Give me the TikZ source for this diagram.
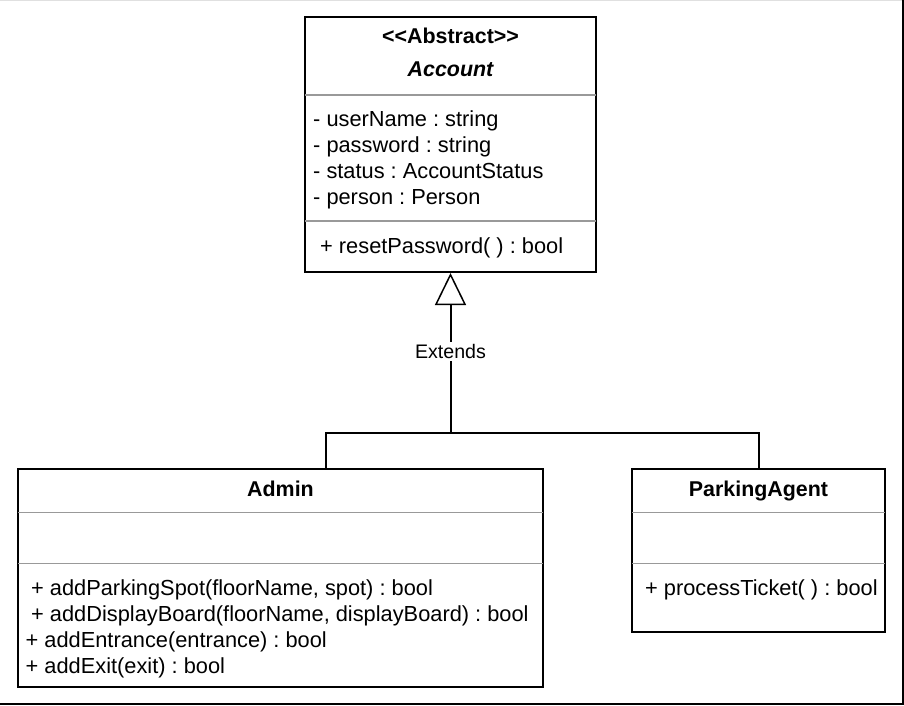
\documentclass[tikz,border=0pt]{standalone}
\usepackage{fontspec}
\newfontfamily\umlfont{Liberation Sans}
\usetikzlibrary{arrows.meta,positioning}
\frenchspacing

\tikzset{
  classbox/.style={draw=black, line width=2pt, rectangle, inner sep=0pt},
  divider/.style={draw=black!40, line width=1.5pt},
  member/.style={anchor=base west, inner sep=0pt, font=\umlfont\fontsize{21.8}{26}\selectfont},
  title/.style={anchor=base, inner sep=0pt, font=\umlfont\bfseries\fontsize{21.4}{26}\selectfont},
  link/.style={line width=2pt},
}

\begin{document}
\begin{tikzpicture}[x=1pt, y=-1pt]
   \useasboundingbox (0,0) rectangle (904,705);
   % page edges
   \draw[black!12, line width=1pt] (0,0.5) -- (902,0.5);
   \draw[line width=2pt] (0,703.5) -- (902.5,703.5) -- (902.5,0);

   % abstract class
   \node[classbox, minimum width=291, minimum height=255] (account) at (450.5,144.5) {};
   \node[title] (stereo) at (450.5,43) {<<Abstract>>};
   \node[title, font=\umlfont\bfseries\itshape\fontsize{21.4}{26}\selectfont] (accountName) at (450.5,76) {Account};
   \draw[divider] (305,95) -- (596,95);
   \node[member] (userName) at (313,126.5) {- userName : string};
   \node[member] (password) at (313,152.5) {- password : string};
   \node[member] (status) at (313,178.5) {- status : AccountStatus};
   \node[member] (person) at (313,204.5) {- person : Person};
   \draw[divider] (305,221) -- (596,221);
   \node[member] (resetPassword) at (320,253) {+ resetPassword( ) : bool};

   % Admin
   \node[classbox, minimum width=525, minimum height=218] (admin) at (280.5,578) {};
   \node[title] (adminName) at (280.5,496) {Admin};
   \draw[divider] (18,512.5) -- (543,512.5);
   \draw[divider] (18,563.5) -- (543,563.5);
   \node[member] (addSpot) at (31,595) {+ addParkingSpot(floorName, spot) : bool};
   \node[member] (addBoard) at (31,621) {+ addDisplayBoard(floorName, displayBoard) : bool};
   \node[member] (addEntrance) at (25.5,647) {+ addEntrance(entrance) : bool};
   \node[member] (addExit) at (25.5,673) {+ addExit(exit) : bool};

   % ParkingAgent
   \node[classbox, minimum width=253, minimum height=163] (agent) at (758.5,550.5) {};
   \node[title] (agentName) at (758.5,496) {ParkingAgent};
   \draw[divider] (632,512.5) -- (885,512.5);
   \draw[divider] (632,563.5) -- (885,563.5);
   \node[member] (processTicket) at (645,595) {+ processTicket( ) : bool};

   % generalisation
   \coordinate (join) at (450.5,433);
   \coordinate (adminTop) at (326,469);
   \draw[link, -{Triangle[open, length=32pt, width=31pt, line width=1.5pt]}] (join)
     -- node[pos=0.51, fill=white, inner sep=2pt, font=\umlfont\fontsize{19.6}{22}\selectfont] (extends) {Extends} (account.south);
   \draw[link] (adminTop) |- (join) -| (agent.north);
\end{tikzpicture}
\end{document}
